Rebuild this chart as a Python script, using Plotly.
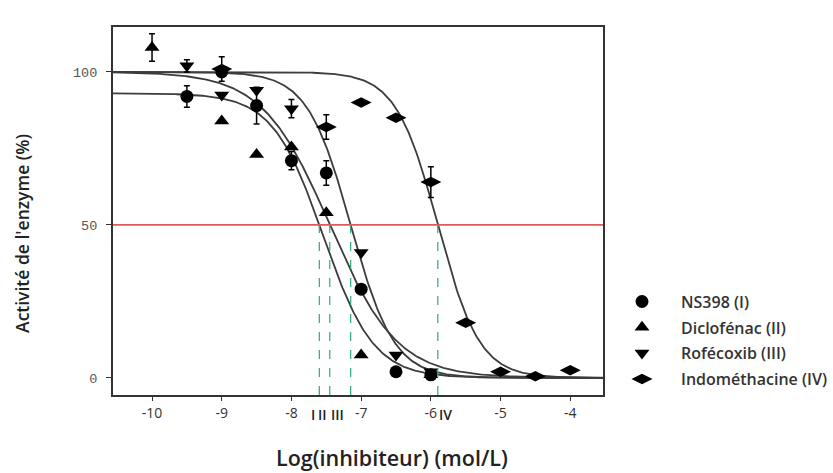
import numpy as np
import plotly.graph_objects as go

# Measured enzyme activity (%) versus log10 inhibitor concentration (mol/L)
ns398_x = [-9.5, -9, -8.5, -8, -7.5, -7, -6.5, -6]
ns398_y = [92, 100, 89, 71, 67, 29, 2, 1]
ns398_err = [3.5, 0, 6, 3, 4, 0, 0, 0]

diclo_x = [-10, -9, -8.5, -8, -7.5, -7, -6]
diclo_y = [108, 84, 73, 75.5, 54, 7.5, 1]
diclo_err = [4.5, 0, 0, 0, 0, 0, 0]

rofe_x = [-9.5, -9, -8.5, -8, -7, -6.5, -6]
rofe_y = [102, 92.5, 94, 88, 41, 7.5, 2]
rofe_err = [2, 0, 0, 3, 0, 0, 0]

indo_x = [-9, -7.5, -7, -6.5, -6, -5.5, -5, -4.5, -4]
indo_y = [101, 82, 90, 85, 64, 18, 2, 0.5, 2.5]
indo_err = [4, 4, 0, 0, 5, 0, 0, 0, 0]

names = ["NS398 (I)", "Diclofénac (II)", "Rofécoxib (III)", "Indométhacine (IV)"]
roman = ["I", "II", "III", "IV"]

# Dose-response fit parameters: log IC50 (50 % crossing), plateau, Hill slope
ic50 = [-7.6, -7.45, -7.15, -5.9]
top = [93, 100, 100, 100]
bottom = [0, 0, 0, 0]
hill = [1.2, 0.9, 1.4, 1.45]

x_ticks = [-10, -9, -8, -7, -6, -5, -4]
y_ticks = [0, 50, 100]

X_RANGE = [-10.56, -3.53]
Y_RANGE = [-5.6, 114.7]

fig = go.Figure()

# fitted sigmoid curves
xs = np.linspace(X_RANGE[0], X_RANGE[1], 400)
for c50, t, b, h in zip(ic50, top, bottom, hill):
    ratio = (t - b) / (50 - b) - 1
    x0 = c50 - np.log10(ratio) / h
    ys = b + (t - b) / (1 + 10 ** ((xs - x0) * h))
    fig.add_trace(go.Scatter(x=xs, y=ys, mode="lines", showlegend=False,
                             hoverinfo="skip",
                             line=dict(color="#3c3c3c", width=1.8)))

series = [
    (ns398_x, ns398_y, ns398_err, "circle", 13),
    (diclo_x, diclo_y, diclo_err, "triangle-up", 13),
    (rofe_x, rofe_y, rofe_err, "triangle-down", 13),
    (indo_x, indo_y, indo_err, "diamond-wide", 15),
]
for (sx, sy, se, sym, sz), nm in zip(series, names):
    fig.add_trace(go.Scatter(
        x=sx, y=sy, mode="markers", name=nm, legendgroup=nm,
        marker=dict(symbol=sym, size=sz, color="black"),
        error_y=dict(type="data", array=se, color="black", thickness=1.5, width=3),
    ))

# 50 % reference line
fig.add_shape(type="line", xref="x domain", yref="y", x0=0, x1=1, y0=50, y1=50,
              line=dict(color="#e05a5a", width=1.6))
# IC50 drop lines
for c50 in ic50:
    fig.add_shape(type="line", xref="x", yref="y", x0=c50, x1=c50,
                  y0=Y_RANGE[0], y1=50,
                  line=dict(color="#2eaa72", width=1.2, dash="dash"))

# Roman numeral IC50 labels under the axis
label_shift = [-6, -7, -13, 8]
for c50, r, sh in zip(ic50, roman, label_shift):
    fig.add_annotation(x=c50, y=0, xref="x", yref="paper", yshift=-8, xshift=sh,
                       text=r, showarrow=False, yanchor="top",
                       font=dict(family="Open Sans", size=14, color="#222", weight=600))

# axis titles
fig.add_annotation(x=0.569, y=-0.171, xref="paper", yref="paper",
                   text="Log(inhibiteur) (mol/L)", showarrow=False,
                   xanchor="center", yanchor="middle",
                   font=dict(family="Open Sans", size=21.5, color="#222", weight=600))
fig.add_annotation(x=-0.186, y=0.44, xref="paper", yref="paper",
                   text="Activité de l'enzyme (%)", showarrow=False, textangle=-90,
                   xanchor="center", yanchor="middle",
                   font=dict(family="Open Sans", size=17.5, color="#222", weight=600))

fig.update_layout(
    width=833, height=473,
    margin=dict(l=113, r=230, t=27, b=78, autoexpand=False),
    paper_bgcolor="white", plot_bgcolor="white",
    showlegend=True,
    legend=dict(x=1.0, y=0.30, xanchor="left", yanchor="top",
                traceorder="grouped", tracegroupgap=2, itemwidth=68,
                font=dict(family="Open Sans", size=16, color="#333", weight=600),
                bgcolor="rgba(0,0,0,0)"),
    xaxis=dict(range=X_RANGE, tickvals=x_ticks, ticktext=[str(v) for v in x_ticks],
               showgrid=False, zeroline=False, showline=True, mirror=True,
               linecolor="#333", linewidth=2, ticks="outside", ticklen=4,
               tickcolor="#333", tickfont=dict(family="Open Sans", size=14, color="#333")),
    yaxis=dict(range=Y_RANGE, tickvals=y_ticks, showgrid=False, zeroline=False,
               showline=True, mirror=True, linecolor="#333", linewidth=2,
               ticks="outside", ticklen=5, tickcolor="#333", ticklabelstandoff=6,
               tickfont=dict(family="Liberation Mono", size=13.5, color="#555")),
)

fig.write_html("out.html")
